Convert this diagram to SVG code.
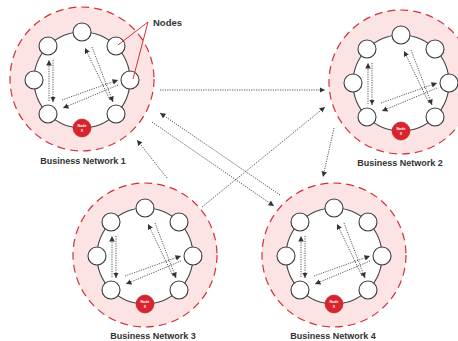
<svg xmlns="http://www.w3.org/2000/svg" width="458" height="341" viewBox="0 0 458 341">
<defs>
<marker id="ah" markerUnits="userSpaceOnUse" markerWidth="7" markerHeight="7" refX="5.5" refY="2.75" orient="auto">
<path d="M0,0 L5.5,2.75 L0,5.5 z" fill="#333"/>
</marker>
<g id="net">
<circle class="outer" cx="0" cy="-1" r="72"/>
<circle class="ring" cx="0" cy="0" r="48"/>
<g class="arrows">
<line x1="-33" y1="21" x2="-33" y2="-20"/>
<line x1="-29" y1="-20" x2="-29" y2="22"/>
<line x1="28" y1="20" x2="3" y2="-32"/>
<line x1="10" y1="-33" x2="31" y2="22"/>
<line x1="-20" y1="20" x2="36" y2="0"/>
<line x1="36" y1="5" x2="-19" y2="28"/>
</g>
<circle class="node" cx="0" cy="-48" r="9"/>
<circle class="node" cx="34" cy="-34" r="9"/>
<circle class="node" cx="48" cy="0" r="9"/>
<circle class="node" cx="34" cy="34" r="9"/>
<circle class="nodex" cx="0" cy="48" r="9"/>
<circle class="node" cx="-34" cy="34" r="9"/>
<circle class="node" cx="-48" cy="0" r="9"/>
<circle class="node" cx="-34" cy="-34" r="9"/>
<text class="xt" x="0" y="47">Node</text>
<text class="xt" x="0" y="51.5">X</text>
</g>
</defs>
<style>
.outer{fill:#fce4e4;stroke:#d3303a;stroke-width:1.2;stroke-dasharray:8 5}
.ring{fill:#fff;stroke:#444;stroke-width:1.1}
.node{fill:#fff;stroke:#3a3a3a;stroke-width:1.1}
.nodex{fill:#d9232d;stroke:#b51a22;stroke-width:0.6}
.arrows line,.conn line{stroke:#444;stroke-width:0.9;stroke-dasharray:1.2 1.2;marker-end:url(#ah)}
.xt{font-family:"Liberation Sans",Arial,sans-serif;font-weight:bold;font-size:3.6px;fill:#fff;text-anchor:middle}
.lbl{font-family:"Liberation Sans",Arial,sans-serif;font-weight:bold;font-size:9px;fill:#333;text-anchor:middle}
</style>
<rect width="458" height="341" fill="#fff"/>
<g id="connectors" class="conn">
<line x1="160" y1="90" x2="325" y2="90"/>
<line x1="202" y1="207" x2="325" y2="107"/>
<line x1="334" y1="128" x2="323" y2="177"/>
<line x1="280" y1="195" x2="160" y2="113"/>
<line x1="152" y1="122" x2="274" y2="206"/>
<line x1="167" y1="178" x2="137" y2="140"/>
</g>
<g id="network1">
<use href="#net" transform="translate(82,80)"/>
<text class="lbl" x="83" y="164">Business Network 1</text>
</g>
<g id="network2">
<use href="#net" transform="translate(401,83)"/>
<text class="lbl" x="400" y="166">Business Network 2</text>
</g>
<g id="network3">
<use href="#net" transform="translate(145,256)"/>
<text class="lbl" x="153" y="339">Business Network 3</text>
</g>
<g id="network4">
<use href="#net" transform="translate(334,256)"/>
<text class="lbl" x="333" y="339">Business Network 4</text>
</g>
<g id="nodes-label">
<line x1="148" y1="22" x2="118" y2="45" stroke="#d3303a" stroke-width="1"/>
<line x1="148" y1="22" x2="133" y2="79" stroke="#d3303a" stroke-width="1"/>
<text x="153" y="26" font-family="'Liberation Sans',Arial,sans-serif" font-weight="bold" font-size="9.5" fill="#333">Nodes</text>
</g>
</svg>
